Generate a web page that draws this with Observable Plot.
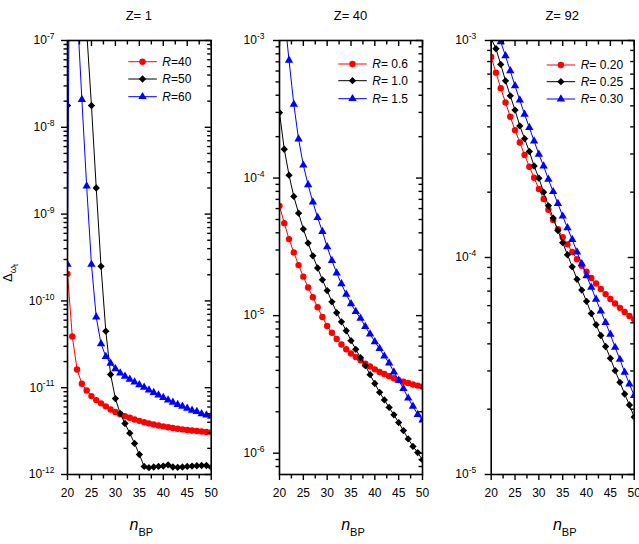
<!DOCTYPE html>
<html>
<head>
<meta charset="utf-8">
<script src="https://cdn.jsdelivr.net/npm/d3@7"></script>
<script src="https://cdn.jsdelivr.net/npm/@observablehq/plot@0.6"></script>
<style>
  html, body { margin: 0; padding: 0; background: #fff; overflow: hidden; }
  #chart { position: relative; width: 639px; height: 544px; font-family: "Liberation Sans", Arial, sans-serif; }
  #chart > svg { position: absolute; top: 0; }
</style>
</head>
<body>
<div id="chart"></div>
<script>
// Basis-size index n_BP shared by every curve
const nBP = [20, 21, 22, 23, 24, 25, 26, 27, 28, 29, 30, 31, 32, 33, 34, 35,
             36, 37, 38, 39, 40, 41, 42, 43, 44, 45, 46, 47, 48, 49, 50];

// Z = 1
const z1Labels = ["=40", "=50", "=60"];
const z1_R40 = [2.05e-10, 3.9e-11, 1.62e-11, 1.11e-11, 9.3e-12, 8.0e-12, 7.2e-12, 6.6e-12, 6.1e-12, 5.6e-12,
                5.25e-12, 4.95e-12, 4.7e-12, 4.5e-12, 4.3e-12, 4.15e-12, 4.0e-12, 3.88e-12, 3.77e-12, 3.67e-12,
                3.58e-12, 3.5e-12, 3.43e-12, 3.37e-12, 3.31e-12, 3.26e-12, 3.21e-12, 3.17e-12, 3.13e-12, 3.09e-12, 3.06e-12];
const z1_R50 = [1.78e-8, 3e-1, 1e-2, 1e-4, 1.3e-7, 1.78e-8, 2.0e-9, 2.5e-10, 4.48e-11, 1.42e-11,
                7.5e-12, 5.05e-12, 3.87e-12, 2.99e-12, 2.28e-12, 1.7e-12, 1.24e-12, 1.20e-12, 1.22e-12, 1.24e-12,
                1.25e-12, 1.29e-12, 1.22e-12, 1.21e-12, 1.22e-12, 1.24e-12, 1.25e-12, 1.26e-12, 1.27e-12, 1.27e-12, 1.21e-12];
const z1_R60 = [2.63e-10, 2e-1, 2.35e-7, 2.09e-8, 2.1e-9, 2.63e-10, 6.5e-11, 3.2e-11, 2.29e-11, 1.91e-11,
                1.65e-11, 1.47e-11, 1.35e-11, 1.25e-11, 1.16e-11, 1.08e-11, 1.01e-11, 9.4e-12, 8.8e-12, 8.2e-12,
                7.7e-12, 7.2e-12, 6.8e-12, 6.4e-12, 6.1e-12, 5.8e-12, 5.5e-12, 5.3e-12, 5.0e-12, 4.85e-12, 4.68e-12];

// Z = 40
const z40Labels = ["= 0.6", "= 1.0", "= 1.5"];
const z40_R06 = [6.28e-5, 4.70e-5, 3.60e-5, 2.88e-5, 2.33e-5, 1.92e-5, 1.60e-5, 1.36e-5, 1.15e-5, 9.77e-6,
                 8.41e-6, 7.50e-6, 6.76e-6, 6.17e-6, 5.69e-6, 5.31e-6, 5.01e-6, 4.73e-6, 4.47e-6, 4.27e-6,
                 4.07e-6, 3.89e-6, 3.76e-6, 3.63e-6, 3.51e-6, 3.40e-6, 3.31e-6, 3.24e-6, 3.16e-6, 3.10e-6, 3.05e-6];
const z40_R10 = [2.99e-4, 1.62e-4, 1.05e-4, 7.35e-5, 5.56e-5, 4.26e-5, 3.37e-5, 2.72e-5, 2.22e-5, 1.82e-5,
                 1.52e-5, 1.26e-5, 1.05e-5, 9.02e-6, 7.76e-6, 6.58e-6, 5.69e-6, 4.95e-6, 4.33e-6, 3.72e-6,
                 3.21e-6, 2.77e-6, 2.44e-6, 2.15e-6, 1.90e-6, 1.67e-6, 1.46e-6, 1.27e-6, 1.12e-6, 1.01e-6, 8.93e-7];
const z40_R15 = [3.0e-3, 1.55e-3, 7.18e-4, 3.44e-4, 1.92e-4, 1.24e-4, 8.93e-5, 6.68e-5, 5.16e-5, 4.08e-5,
                 3.16e-5, 2.51e-5, 2.04e-5, 1.70e-5, 1.43e-5, 1.22e-5, 1.07e-5, 9.55e-6, 8.32e-6, 7.33e-6,
                 6.46e-6, 5.75e-6, 5.07e-6, 4.52e-6, 3.89e-6, 3.39e-6, 2.95e-6, 2.51e-6, 2.19e-6, 1.91e-6, 1.74e-6];

// Z = 92
const z92Labels = ["= 0.20", "= 0.25", "= 0.30"];
const z92_R020 = [8.39e-4, 7.11e-4, 6.03e-4, 5.18e-4, 4.45e-4, 3.86e-4, 3.39e-4, 2.97e-4, 2.62e-4, 2.33e-4,
                  2.07e-4, 1.86e-4, 1.66e-4, 1.49e-4, 1.35e-4, 1.24e-4, 1.15e-4, 1.06e-4, 9.82e-5, 9.16e-5,
                  8.59e-5, 8.05e-5, 7.59e-5, 7.16e-5, 6.78e-5, 6.44e-5, 6.14e-5, 5.86e-5, 5.61e-5, 5.38e-5, 5.18e-5];
const z92_R025 = [1.02e-3, 9.16e-4, 7.76e-4, 6.52e-4, 5.56e-4, 4.78e-4, 4.04e-4, 3.53e-4, 3.08e-4, 2.64e-4,
                  2.32e-4, 2.00e-4, 1.73e-4, 1.52e-4, 1.33e-4, 1.17e-4, 1.03e-4, 9.06e-5, 7.94e-5, 7.08e-5,
                  6.28e-5, 5.52e-5, 4.90e-5, 4.37e-5, 3.89e-5, 3.43e-5, 3.01e-5, 2.66e-5, 2.35e-5, 2.09e-5, 1.84e-5];
const z92_R030 = [1.45e-3, 1.17e-3, 9.86e-4, 8.49e-4, 7.24e-4, 6.18e-4, 5.31e-4, 4.57e-4, 3.97e-4, 3.44e-4,
                  2.99e-4, 2.64e-4, 2.29e-4, 2.01e-4, 1.77e-4, 1.55e-4, 1.37e-4, 1.21e-4, 1.06e-4, 9.35e-5,
                  8.24e-5, 7.28e-5, 6.41e-5, 5.66e-5, 5.01e-5, 4.42e-5, 3.85e-5, 3.39e-5, 2.96e-5, 2.61e-5, 2.31e-5];

const xTicks = [20, 25, 30, 35, 40, 45, 50];
const xMinor = [22.5, 27.5, 32.5, 37.5, 42.5, 47.5];

const styles = [
  {color: "#ff0000", symbol: "circle", r: 3.2, d3sym: d3.symbolCircle},
  {color: "#000000", symbol: "diamond2", r: 3.3, d3sym: d3.symbolDiamond2},
  {color: "#0000ff", symbol: "triangle", r: 3.1, d3sym: d3.symbolTriangle}
];

const panels = [
  {title: "Z= 1", left: 0, width: 215, marginLeft: 67, marginRight: 4.3, domain: [1e-12, 1e-7],
   decades: [-12, -7], labelPad: 7, labels: z1Labels, series: [z1_R40, z1_R50, z1_R60],
   legend: {x: 128.3, rows: [61.7, 79, 96.7]}},
  {title: "Z= 40", left: 215, width: 212, marginLeft: 64, marginRight: 5, domain: [7.0e-7, 1e-3],
   decades: [-7, -3], labelPad: 9, labels: z40Labels, series: [z40_R06, z40_R10, z40_R15],
   legend: {x: 338.3, rows: [64, 80.7, 98.7]}},
  {title: "Z= 92", left: 427, width: 212, marginLeft: 63.7, marginRight: 5.3, domain: [1e-5, 1e-3],
   decades: [-5, -3], labelPad: 9, labels: z92Labels, series: [z92_R020, z92_R025, z92_R030],
   legend: {x: 546.7, rows: [65, 81.7, 99]}}
];

const H = 544, MT = 40, MB = 70;
const TW = 1.4;              // tick stroke width
const chart = document.getElementById("chart");

function logTicks(domain, [k0, k1]) {
  const major = [], minor = [];
  for (let k = k0; k <= k1; k++) {
    const p = Math.pow(10, k);
    if (p >= domain[0] * 0.999 && p <= domain[1] * 1.001) major.push(p);
    for (let m = 2; m <= 9; m++) {
      const v = m * p;
      if (v > domain[0] * 1.001 && v < domain[1] * 0.999) minor.push(v);
    }
  }
  return {major, minor};
}

for (const cfg of panels) {
  const fw = cfg.width - cfg.marginLeft - cfg.marginRight;
  const fh = H - MT - MB;
  const {major, minor} = logTicks(cfg.domain, cfg.decades);
  const marks = [];

  cfg.series.forEach((vals, i) => {
    const s = styles[i];
    const rows = nBP.map((n, j) => ({n, v: vals[j]}));
    marks.push(Plot.line(rows, {x: "n", y: "v", stroke: s.color, strokeWidth: 1, clip: true}));
    marks.push(Plot.dot(rows, {x: "n", y: "v", symbol: s.symbol, r: s.r, fill: s.color, stroke: "none", clip: true}));
  });

  // outward ticks on the left and bottom, labelled
  marks.push(Plot.axisY({ticks: major, tickSize: 6, tickPadding: cfg.labelPad, label: null, strokeWidth: TW,
                         tickFormat: d => String(Math.round(Math.log10(d)))}));
  marks.push(Plot.axisY({ticks: minor, tickSize: 3.5, label: null, strokeWidth: TW, tickFormat: () => ""}));
  marks.push(Plot.axisX({ticks: xTicks, tickSize: 6, tickPadding: 8, label: null, strokeWidth: TW, tickFormat: d => String(d)}));
  marks.push(Plot.axisX({ticks: xMinor, tickSize: 4.5, label: null, strokeWidth: TW, tickFormat: () => ""}));
  // inward mirrored ticks on the right and top
  marks.push(Plot.tickY(major, {y: d => d, insetLeft: fw - 6, stroke: "black", strokeWidth: TW}));
  marks.push(Plot.tickY(minor, {y: d => d, insetLeft: fw - 3.5, stroke: "black", strokeWidth: TW}));
  marks.push(Plot.tickX(xTicks, {x: d => d, insetBottom: fh - 6, stroke: "black", strokeWidth: TW}));
  marks.push(Plot.tickX(xMinor, {x: d => d, insetBottom: fh - 4.5, stroke: "black", strokeWidth: TW}));
  marks.push(Plot.frame({stroke: "black", strokeWidth: 1.6}));

  const svg = Plot.plot({
    width: cfg.width, height: H,
    marginTop: MT, marginBottom: MB, marginLeft: cfg.marginLeft, marginRight: cfg.marginRight,
    x: {domain: [20, 50]},
    y: {type: "log", domain: cfg.domain},
    style: {background: "transparent", overflow: "visible", fontFamily: '"Liberation Sans", Arial, sans-serif', fontSize: "12px", color: "black"},
    marks
  });
  svg.style.left = cfg.left + "px";

  // powers of ten: "10" with a raised exponent
  d3.select(svg).selectAll('g[aria-label="y-axis tick label"] text').each(function () {
    const e = this.textContent;
    if (!e) return;
    const t = d3.select(this);
    t.text(null);
    t.append("tspan").text("10");
    t.append("tspan").attr("dy", "-0.6em").attr("font-size", "8.5px").text(e);
  });
  chart.appendChild(svg);
}

// titles, axis titles and legends
const over = d3.select(chart).append("svg")
  .attr("width", 639).attr("height", 544)
  .style("left", "0px")
  .attr("font-family", '"Liberation Sans", Arial, sans-serif');

for (const cfg of panels) {
  const cx = cfg.left + cfg.marginLeft + (cfg.width - cfg.marginLeft - cfg.marginRight) / 2;
  over.append("text").attr("x", cx).attr("y", 20).attr("text-anchor", "middle")
    .attr("font-size", 13).text(cfg.title);

  const xl = over.append("text").attr("x", cx + 2.5).attr("y", 530).attr("text-anchor", "middle");
  xl.append("tspan").attr("font-size", 16).attr("font-style", "italic").text("n");
  xl.append("tspan").attr("font-size", 11).attr("dy", 6).text("BP");

  const lg = cfg.legend;
  cfg.labels.forEach((lab, i) => {
    const s = styles[i], y = lg.rows[i];
    over.append("line").attr("x1", lg.x).attr("x2", lg.x + 28.5).attr("y1", y).attr("y2", y)
      .attr("stroke", s.color).attr("stroke-width", 1);
    over.append("path").attr("transform", `translate(${lg.x + 14.2},${y})`)
      .attr("d", d3.symbol(s.d3sym, Math.PI * s.r * s.r)()).attr("fill", s.color);
    const t = over.append("text").attr("x", lg.x + 34).attr("y", y + 4.3).attr("font-size", 12);
    t.append("tspan").attr("font-style", "italic").text("R");
    t.append("tspan").text(lab);
  });
}

const yl = over.append("text").attr("transform", "translate(12,282) rotate(-90)").attr("text-anchor", "start");
yl.append("tspan").attr("font-size", 13).text("Δ");
yl.append("tspan").attr("font-size", 9.5).attr("dy", 3.5).text("ω");
yl.append("tspan").attr("font-size", 7).attr("dy", 2).text("t");
</script>
</body>
</html>
